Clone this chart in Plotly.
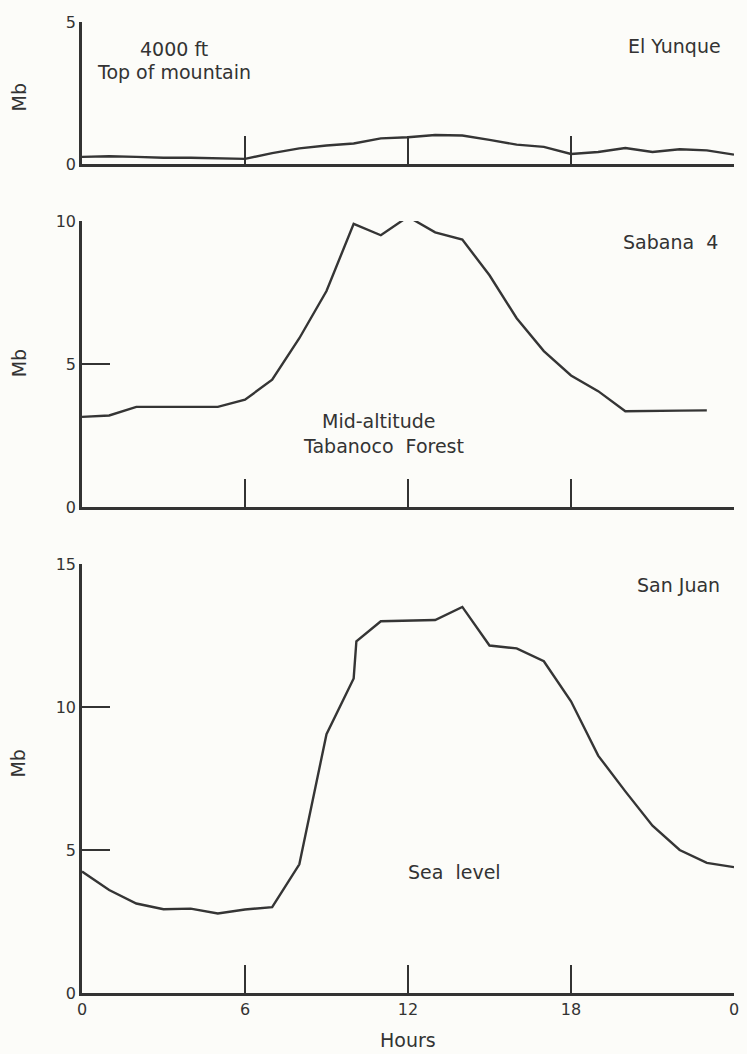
import plotly.graph_objects as go
from plotly.subplots import make_subplots

# Diurnal vapour pressure deficit (Mb) at three stations, hours 0-24
hours_top = [0, 1, 2, 3, 4, 5, 6, 7, 8, 9, 10, 11, 12, 13, 14, 15, 16, 17, 18, 19, 20, 21, 22, 23, 24]
el_yunque = [0.25, 0.27, 0.25, 0.22, 0.22, 0.2, 0.18, 0.38, 0.55, 0.65, 0.72, 0.9, 0.94, 1.02, 1.0,
             0.85, 0.68, 0.6, 0.35, 0.42, 0.56, 0.42, 0.52, 0.48, 0.33]

hours_mid = [0, 1, 2, 3, 4, 5, 6, 7, 8, 9, 10, 11, 12, 13, 14, 15, 16, 17, 18, 19, 20, 21, 22, 23]
sabana_4 = [3.15, 3.2, 3.5, 3.5, 3.5, 3.5, 3.75, 4.45, 5.9, 7.55, 9.9, 9.5, 10.15, 9.6, 9.35,
            8.1, 6.6, 5.45, 4.6, 4.05, 3.35, 3.35, 3.37, 3.38]

hours_low = [0, 1, 2, 3, 4, 5, 6, 7, 8, 9, 10, 10.1, 11, 12, 13, 14, 15, 16, 17, 18, 19, 20,
             21, 22, 23, 24]
san_juan = [4.25, 3.6, 3.13, 2.93, 2.95, 2.78, 2.92, 3.0, 4.5, 9.05, 11.0, 12.3, 13.0, 13.02,
            13.04, 13.5, 12.15, 12.05, 11.6, 10.2, 8.3, 7.05, 5.85, 5.0, 4.55, 4.4]

hour_ticks = [0, 6, 12, 18, 24]
hour_labels = ["0", "6", "12", "18", "0"]
y_ranges = [(0, 5), (0, 10), (0, 15)]
y_ticks = [[0, 5], [0, 5, 10], [0, 5, 10, 15]]

INK = "#333333"
FONT = "DejaVu Sans"

fig = make_subplots(rows=3, cols=1)

series = [(hours_top, el_yunque), (hours_mid, sabana_4), (hours_low, san_juan)]
for i, (hx, vy) in enumerate(series, start=1):
    fig.add_trace(go.Scatter(x=hx, y=vy, mode="lines", cliponaxis=False,
                             line=dict(color="#353535", width=2.4),
                             showlegend=False, hoverinfo="skip"), row=i, col=1)

domains = [[0.8538, 1.0], [0.5005, 0.7951], [0.0, 0.4418]]
for i in range(3):
    xa = "xaxis" if i == 0 else f"xaxis{i + 1}"
    ya = "yaxis" if i == 0 else f"yaxis{i + 1}"
    fig.layout[xa].update(
        range=[0, 24], tickvals=hour_ticks, ticktext=hour_labels,
        showticklabels=(i == 2), ticks="inside", ticklen=28, tickwidth=1.6,
        tickcolor=INK, showline=True, linewidth=2.6, linecolor=INK,
        showgrid=False, zeroline=False, domain=[0, 1],
        tickfont=dict(family=FONT, size=16, color=INK),
    )
    fig.layout[ya].update(
        range=list(y_ranges[i]), tickvals=y_ticks[i],
        ticks="inside", ticklen=28, tickwidth=1.6, tickcolor=INK,
        showline=True, linewidth=2.6, linecolor=INK,
        showgrid=False, zeroline=False, domain=domains[i],
        tickfont=dict(family=FONT, size=16, color=INK),
    )

ann_font = dict(family=FONT, size=19, color=INK)
notes = [
    ("x", "y", 3.4, 4.04, "4000 ft", "center"),
    ("x", "y", 3.4, 3.24, "Top of mountain", "center"),
    ("x", "y", 23.6, 4.17, "El Yunque", "right"),
    ("x2", "y2", 23.5, 9.27, "Sabana  4", "right"),
    ("x2", "y2", 10.9, 2.99, "Mid-altitude", "center"),
    ("x2", "y2", 11.1, 2.12, "Tabanoco  Forest", "center"),
    ("x3", "y3", 23.55, 14.27, "San Juan", "right"),
    ("x3", "y3", 13.7, 4.23, "Sea  level", "center"),
]
for xr, yr, xv, yv, txt, anchor in notes:
    fig.add_annotation(x=xv, y=yv, xref=xr, yref=yr, text=txt, showarrow=False,
                       xanchor=anchor, yanchor="middle", font=ann_font)

# Rotated "Mb" titles beside each panel
for yr, yv in [("y", 2.36), ("y2", 5.04), ("y3", 8.04)]:
    fig.add_annotation(x=-0.0974, y=yv, xref="paper", yref=yr, text="Mb",
                       textangle=-90, showarrow=False, xanchor="center",
                       yanchor="middle", font=ann_font)

fig.add_annotation(x=12, y=-0.0484, xref="x3", yref="paper", text="Hours",
                   showarrow=False, xanchor="center", yanchor="middle", font=ann_font)

fig.update_layout(
    width=747, height=1054,
    margin=dict(l=82, r=8, t=22, b=61),
    paper_bgcolor="#fcfcf9", plot_bgcolor="#fcfcf9",
    font=dict(family=FONT, color=INK),
)

fig.write_html("out.html")
